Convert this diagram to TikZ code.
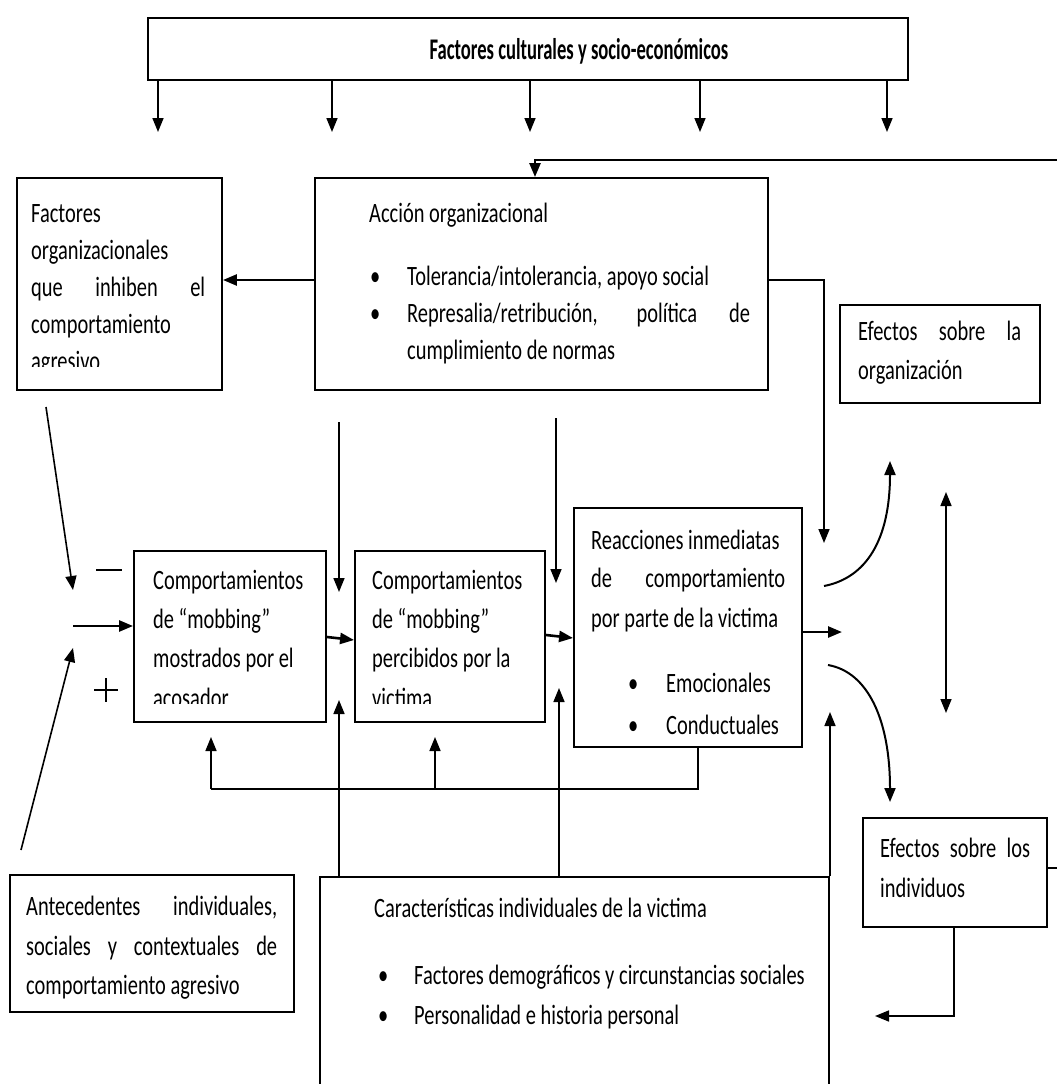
\documentclass[tikz,border=0pt]{standalone}
\usepackage{fontspec}
\setmainfont{Carlito}[FakeStretch=0.73]
\newfontfamily\titlefont{Carlito}[FakeStretch=0.62]
\usetikzlibrary{arrows.meta,fit}
\begin{document}
\begin{tikzpicture}[x=1pt,y=-1pt,
  every node/.style={font=\fontsize{28}{38}\selectfont},
  box/.style={draw, line width=1.9pt, inner sep=0pt},
  tx/.style={inner sep=0pt, anchor=base west},
  tip/.style={-{Triangle[length=14pt,width=11pt]}},
  arr/.style={tip, line width=1.6pt},
  thk/.style={tip, line width=2.6pt},
  ln/.style={line width=1.8pt}]
\fill[white] (0,0) rectangle (1057,1084);
\useasboundingbox (0,0) rectangle (1057,1084);

% top box
\node[box, fit={(148,18) (908,80)}] (top) {};
\node[inner sep=0pt, anchor=base, font=\titlefont\bfseries\fontsize{30}{38}\selectfont] (toptxt) at (579,59) {Factores culturales y socio-económicos};
\foreach \x/\n in {158/ta,332/tb,530/tc,700/td,887/te}{
  \coordinate (\n) at (\x,132);
  \draw[arr] (top.south -| \n) -- (\n);
}

% left organizational box
\node[box, fit={(17,178) (222,390)}] (org) {};
\begin{scope}
\clip (17,178) rectangle (222,366);
\node[tx] (o1) at (31,222) {Factores};
\node[tx] (o2) at (31,259) {organizacionales};
\node[tx] (o3) at (31,296) {\makebox[174pt][s]{que inhiben el}};
\node[tx] (o4) at (31,333) {comportamiento};
\node[tx] (o5) at (31,370) {agresivo};
\end{scope}

% accion organizacional
\node[box, fit={(315,178) (768,390)}] (accion) {};
\node[tx] (a1) at (369,222) {Acción organizacional};
\node[tx] (ab1) at (370,285) {\textbullet};
\node[tx] (a2) at (407,285) {Tolerancia/intolerancia, apoyo social};
\node[tx] (ab2) at (370,322) {\textbullet};
\node[tx] (a3) at (407,322) {\makebox[343pt][s]{Represalia/retribución, política de}};
\node[tx] (a4) at (407,359) {cumplimiento de normas};

% feedback from right
\coordinate (fbR) at (1057,160);
\coordinate (fbC) at (535,160);
\draw[thk] (fbR) -- (fbC) -- (accion.north -| fbC);

\coordinate (acL) at (315,280);
\draw[thk] (accion.west |- acL) -- (org.east |- acL);
\coordinate (acR) at (824,280);
\coordinate (acT) at (824,543);
\draw[arr] (accion.east |- acR) -- (acR) -- (acT);

% efectos organizacion
\node[box, fit={(840,305) (1040,403)}] (eorg) {};
\node[tx] (e1) at (858,340) {\makebox[163pt][s]{Efectos sobre la}};
\node[tx] (e2) at (858,379) {organización};

% left inputs
\coordinate (d1s) at (46,407);
\coordinate (d1e) at (73,590);
\draw[arr] (d1s) -- (d1e);
\draw[ln] (96,570) -- (122,570);
\draw[line width=1.3pt] (94,690) -- (118,690) (106,678) -- (106,702);
\coordinate (d2s) at (21,850);
\coordinate (d2e) at (73,648);
\draw[arr] (d2s) -- (d2e);

% mobbing boxes
\node[box, fit={(134,551) (326,722)}] (b1) {};
\node[box, fit={(355,551) (545,722)}] (b2) {};
\coordinate (hin) at (73,626);
\draw[thk] (hin) -- (b1.west |- hin);
\begin{scope}
\clip (134,551) rectangle (545,703);
\node[tx] (m1) at (153,589) {Comportamientos};
\node[tx] (m2) at (153,628) {de “mobbing”};
\node[tx] (m3) at (153,667) {mostrados por el};
\node[tx] (m4) at (153,707) {acosador};
\node[tx] (p1) at (372,589) {Comportamientos};
\node[tx] (p2) at (372,628) {de “mobbing”};
\node[tx] (p3) at (372,667) {percibidos por la};
\node[tx] (p4) at (372,707) {victima};
\end{scope}

\coordinate (v1s) at (339,422);
\coordinate (v1e) at (339,592);
\draw[arr] (v1s) -- (v1e);
\coordinate (v2s) at (556,418);
\coordinate (v2e) at (556,583);
\draw[arr] (v2s) -- (v2e);

% reacciones
\node[box, fit={(574,508) (802,747)}] (reac) {};
\node[tx] (r1) at (591,549) {Reacciones inmediatas};
\node[tx] (r2) at (591,587) {\makebox[194pt][s]{de comportamiento}};
\node[tx] (r3) at (591,627) {por parte de la victima};
\node[tx] (rb1) at (628,692) {\textbullet};
\node[tx] (r4) at (666,692) {Emocionales};
\node[tx] (rb2) at (628,734) {\textbullet};
\node[tx] (r5) at (666,734) {Conductuales};

\coordinate (k1) at (0,637);
\coordinate (k2) at (0,640);
\coordinate (k3) at (0,635);
\coordinate (k4) at (0,638);
\draw[thk] (b1.east |- k1) -- (b2.west |- k2);
\draw[thk] (b2.east |- k3) -- (reac.west |- k4);
\coordinate (rout) at (842,632);
\draw[thk] (reac.east |- rout) -- (rout);

% curved outputs
\coordinate (cu1) at (824,586);
\coordinate (cu2) at (890,461);
\draw[tip, line width=2pt] (cu1) .. controls (866,578) and (890,540) .. (cu2);
\coordinate (cd1) at (828,665);
\coordinate (cd2) at (890,802);
\draw[tip, line width=2pt] (cd1) .. controls (868,672) and (890,720) .. (cd2);
\coordinate (dbA) at (946,492);
\coordinate (dbB) at (946,713);
\draw[{Triangle[length=14pt,width=11pt]}-{Triangle[length=14pt,width=11pt]}, line width=1.6pt] (dbA) -- (dbB);

% feedback bottom
\coordinate (fb1) at (698,789);
\coordinate (fb2) at (211,789);
\coordinate (fb3) at (435,789);
\draw[ln] (reac.south -| fb1) -- (fb1) -- (fb2);
\draw[arr] (fb2) -- ++(0,-52);
\draw[arr] (fb3) -- ++(0,-52);

% caracteristicas
\node[box, fit={(320,877) (829,1100)}] (car) {};
\coordinate (u1) at (339,700);
\coordinate (u2) at (559,688);
\coordinate (u3) at (830,712);
\draw[arr] (car.north -| u1) -- (u1);
\draw[arr] (car.north -| u2) -- (u2);
\draw[arr] (car.north -| u3) -- (u3);
\node[tx] (c1) at (374,917) {Características individuales de la victima};
\node[tx] (cb1) at (378,984) {\textbullet};
\node[tx] (c2) at (414,984) {Factores demográficos y circunstancias sociales};
\node[tx] (cb2) at (378,1024) {\textbullet};
\node[tx] (c3) at (414,1024) {Personalidad e historia personal};

% antecedentes
\node[box, fit={(10,875) (294,1012)}] (ant) {};
\node[tx] (n1) at (26,915) {\makebox[251pt][s]{Antecedentes individuales,}};
\node[tx] (n2) at (26,955) {\makebox[251pt][s]{sociales y contextuales de}};
\node[tx] (n3) at (26,994) {comportamiento agresivo};

% efectos individuos
\node[box, fit={(863,818) (1047,927)}] (eind) {};
\node[tx] (i1) at (880,857) {\makebox[150pt][s]{Efectos sobre los}};
\node[tx] (i2) at (880,897) {individuos};
\coordinate (eiA) at (954,1016);
\coordinate (eiB) at (875,1016);
\draw[arr] (eind.south -| eiA) -- (eiA) -- (eiB);
\coordinate (stub) at (1057,868);
\draw[ln] (eind.east |- stub) -- (stub);
\end{tikzpicture}
\end{document}
